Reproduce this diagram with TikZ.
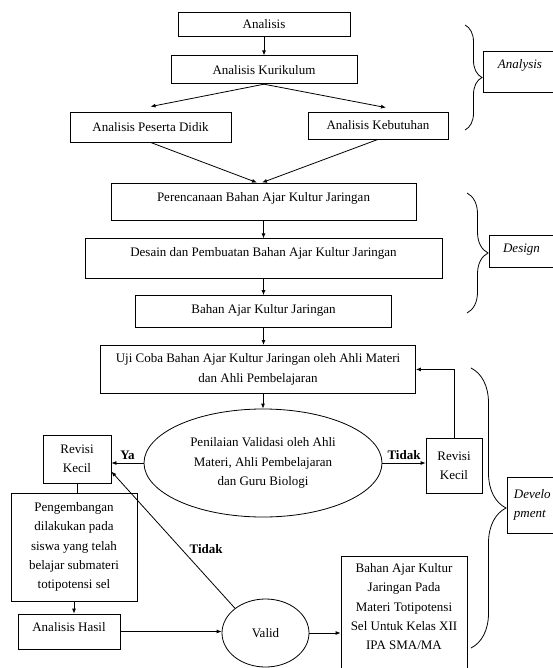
\documentclass[tikz,border=0pt]{standalone}
\usepackage{fontspec}
\setmainfont{Liberation Serif}
\usepackage{xcolor}
\usepackage{tikz}
\usetikzlibrary{positioning,shapes.geometric,arrows.meta,decorations.pathreplacing}
\tikzset{
    stagebox/.style={draw,rectangle,align=center,inner sep=2pt},
    judgenode/.style={draw,ellipse,align=center,inner sep=0pt},
    phasebox/.style={draw,rectangle,inner sep=2pt,font=\fontsize{13}{19.3}\selectfont\itshape},
    answer/.style={font=\fontsize{13}{19.3}\selectfont\bfseries},
    lift/.style={text height=9pt,text depth=#1},
    flowarrow/.style={-{Latex[length=5pt,width=4pt]}},
    phasebrace/.style={decorate,decoration={brace,amplitude=#1}}
}

\begin{document}
\begin{tikzpicture}[x=1pt,y=1pt,line width=0.8pt,font=\fontsize{13}{19.3}\selectfont] % 1pt = 1px of the page
                \useasboundingbox (0,0) rectangle (552,-668);
                % Define the analysis boxes
                \node[stagebox,minimum width=172pt,minimum height=24pt] (ana) at (264,-24) {Analisis};
                \node[stagebox,minimum width=186pt,minimum height=28pt,below=19pt of ana] (kur) {Analisis Kurikulum};
                \node[stagebox,minimum width=161pt,minimum height=30pt] (psd) at (150.5,-127) {Analisis Peserta Didik};
                \node[stagebox,minimum width=140pt,minimum height=27pt] (keb) at (378,-125.5) {Analisis Kebutuhan};
                % Define the design boxes
                \node[stagebox,minimum width=305pt,minimum height=37pt,lift=10pt] (ren) at (263.5,-201.5) {Perencanaan Bahan Ajar Kultur Jaringan};
                \node[stagebox,minimum width=357pt,minimum height=40pt,lift=13pt,below=18pt of ren] (des) {Desain dan Pembuatan Bahan Ajar Kultur Jaringan};
                \node[stagebox,minimum width=256pt,minimum height=32pt,lift=5pt,below=16pt of des] (baj) {Bahan Ajar Kultur Jaringan};
                % Define the development boxes
                \node[stagebox,minimum width=315pt,minimum height=48pt,below=17pt of baj,xshift=-5.5pt] (uji) {Uji Coba Bahan Ajar Kultur Jaringan oleh Ahli Materi\\dan Ahli Pembelajaran};
                \node[judgenode,minimum width=238pt,minimum height=108pt] (val) at (263,-463) {Penilaian Validasi oleh Ahli\\Materi, Ahli Pembelajaran\\dan Guru Biologi};
                \node[stagebox,minimum width=68pt,minimum height=48pt] (revL) at (77,-459) {Revisi\\Kecil};
                \node[stagebox,minimum width=56pt,minimum height=55pt] (revR) at (454,-465.5) {Revisi\\Kecil};
                \node[stagebox,minimum width=126pt,minimum height=108pt] (pgb) at (74,-547) {Pengembangan\\dilakukan pada\\siswa yang telah\\belajar submateri\\totipotensi sel};
                \node[stagebox,minimum width=102pt,minimum height=35pt,lift=10pt] (hsl) at (69,-631.5) {Analisis Hasil};
                \node[judgenode,minimum width=87pt,minimum height=68pt] (vld) at (265.5,-633) {Valid};
                \node[stagebox,minimum width=126pt,minimum height=120pt,anchor=north] (fin) at (404,-556) {Bahan Ajar Kultur\\Jaringan Pada\\Materi Totipotensi\\Sel Untuk Kelas XII\\IPA SMA/MA\\\mbox{}};
                % Phase labels
                \node[phasebox,minimum width=74pt,minimum height=41pt,lift=14pt] (anabox) at (520,-71.5) {Analysis};
                \node[phasebox,minimum width=65pt,minimum height=32pt,lift=7pt] (desbox) at (521.5,-251) {Design};
                \node[phasebox,minimum height=56pt,inner xsep=6.5pt,align=left,anchor=west] (devbox) at (507,-505) {Develo\\pment};
                \draw[phasebrace=17pt] (465,-25) -- (465,-130);
                \draw[phasebrace=21pt] (467,-193) -- (467,-313);
                \draw[phasebrace=35pt] (471,-368) -- (471,-648);
                % Connectors
                \draw[flowarrow] (ana) -- (kur);
                \draw[flowarrow] (kur.south) -- ([yshift=5pt]psd.north);
                \draw[flowarrow] (kur.south) -- ([xshift=8pt,yshift=4pt]keb.north);
                \draw[flowarrow] (psd.south) -- ([xshift=-6.5pt]ren.north);
                \draw[flowarrow] (keb.south) -- ([xshift=-1.5pt]ren.north);
                \draw[flowarrow] (ren) -- (des);
                \draw[flowarrow] (des) -- (baj);
                \draw[flowarrow] (baj) -- (baj |- uji.north);
                \draw[flowarrow] (val.north |- uji.south) -- (val.north);
                \draw[flowarrow] (val.west) -- (val.west -| revL.east) node[midway,above,answer] {Ya};
                \draw[flowarrow] (val.east) -- (val.east -| revR.west) node[midway,above,answer] {Tidak};
                \draw[flowarrow] (revR.north) |- (uji.east);
                \draw (revL.south) -- (revL.south |- pgb.north);
                \draw[flowarrow] (pgb.south) -- (pgb.south |- hsl.north);
                \draw[flowarrow] (hsl.east) -- (hsl.east -| vld.west);
                \draw[flowarrow] (vld.141) -- (revL.-20) node[pos=0.43,right=4pt,answer] {Tidak};
                \draw[flowarrow] (vld.east) -- (vld.east -| fin.west);
            \end{tikzpicture}
\end{document}
